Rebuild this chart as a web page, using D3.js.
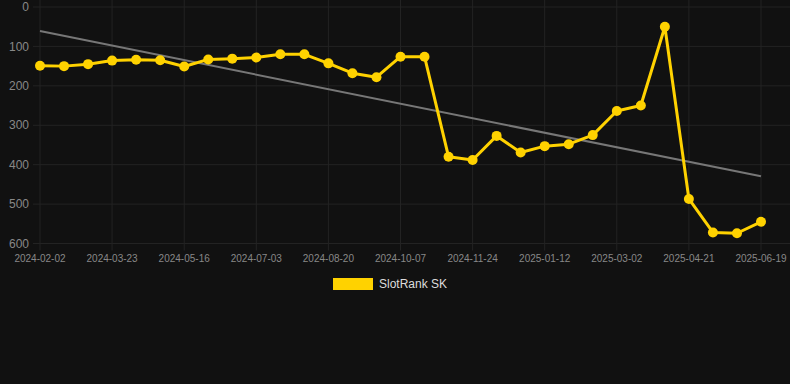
<!DOCTYPE html>
<html><head><meta charset="utf-8">
<script src="https://cdn.jsdelivr.net/npm/d3@7"></script>
<style>
html,body{margin:0;padding:0;background:#111111;}
svg{display:block;}
</style></head>
<body>
<svg id="c" width="790" height="384"></svg>
<script>
const dates = ["2024-02-02","2024-02-18","2024-03-06","2024-03-23","2024-04-09","2024-04-27","2024-05-16","2024-06-01","2024-06-17","2024-07-03","2024-07-19","2024-08-04","2024-08-20","2024-09-05","2024-09-21","2024-10-07","2024-10-23","2024-11-08","2024-11-24","2024-12-10","2024-12-27","2025-01-12","2025-01-28","2025-02-13","2025-03-02","2025-03-18","2025-04-04","2025-04-21","2025-05-10","2025-05-30","2025-06-19"];
const rankSK = [149,150,145,136,134,135,151,133,131,128,120,120,143,168,178,126,126,380,388,327,369,353,348,325,264,250,50,487,572,574,545];
const yTicks = [0,100,200,300,400,500,600];
const seriesName = "SlotRank SK";

const svg = d3.select("#c");
const plotL = 40, plotR = 761, plotT = 7, plotB = 243.5;
const x = d3.scalePoint().domain(dates).range([plotL, plotR]);
const y = d3.scaleLinear().domain([0, 600]).range([plotT, plotB]);

const grid = svg.append("g");
grid.selectAll("line.h").data(yTicks).enter().append("line")
  .attr("x1", 33).attr("x2", 790)
  .attr("y1", d => y(d)).attr("y2", d => y(d))
  .attr("stroke", "#232323").attr("stroke-width", 1);
const shown = dates.filter((d, i) => i % 3 === 0);
grid.selectAll("line.v").data(shown).enter().append("line")
  .attr("x1", d => x(d)).attr("x2", d => x(d))
  .attr("y1", 0).attr("y2", plotB + 7)
  .attr("stroke", "#232323").attr("stroke-width", 1);

svg.append("g").selectAll("text").data(yTicks).enter().append("text")
  .attr("x", 29).attr("y", d => y(d)).attr("dy", "0.35em")
  .attr("text-anchor", "end")
  .attr("font-family", "Liberation Sans, Arial, sans-serif").attr("font-size", 12)
  .attr("fill", "#888").text(d => d);

svg.append("g").selectAll("text").data(shown).enter().append("text")
  .attr("x", d => x(d)).attr("y", 262)
  .attr("text-anchor", "middle")
  .attr("font-family", "Liberation Sans, Arial, sans-serif").attr("font-size", 10)
  .attr("fill", "#888").text(d => d);

const n = rankSK.length;
const xs = d3.range(n);
const mx = d3.mean(xs), my = d3.mean(rankSK);
const slope = d3.sum(xs, i => (i - mx) * (rankSK[i] - my)) / d3.sum(xs, i => (i - mx) ** 2);
const icpt = my - slope * mx;
svg.append("line")
  .attr("x1", x(dates[0])).attr("y1", y(icpt))
  .attr("x2", x(dates[n - 1])).attr("y2", y(icpt + slope * (n - 1)))
  .attr("stroke", "#777").attr("stroke-width", 2);

const line = d3.line().x((d, i) => x(dates[i])).y(d => y(d));
svg.append("path").datum(rankSK).attr("d", line)
  .attr("fill", "none").attr("stroke", "#ffd200").attr("stroke-width", 3)
  .attr("stroke-linejoin", "round");
svg.append("g").selectAll("circle").data(rankSK).enter().append("circle")
  .attr("cx", (d, i) => x(dates[i])).attr("cy", d => y(d)).attr("r", 5)
  .attr("fill", "#ffd200");

svg.append("rect").attr("x", 333).attr("y", 278).attr("width", 40).attr("height", 12)
  .attr("fill", "#ffd200");
svg.append("text").attr("x", 379).attr("y", 284).attr("dy", "0.35em")
  .attr("font-family", "Liberation Sans, Arial, sans-serif").attr("font-size", 12)
  .attr("fill", "#dddddd").text(seriesName);
</script>
</body></html>
